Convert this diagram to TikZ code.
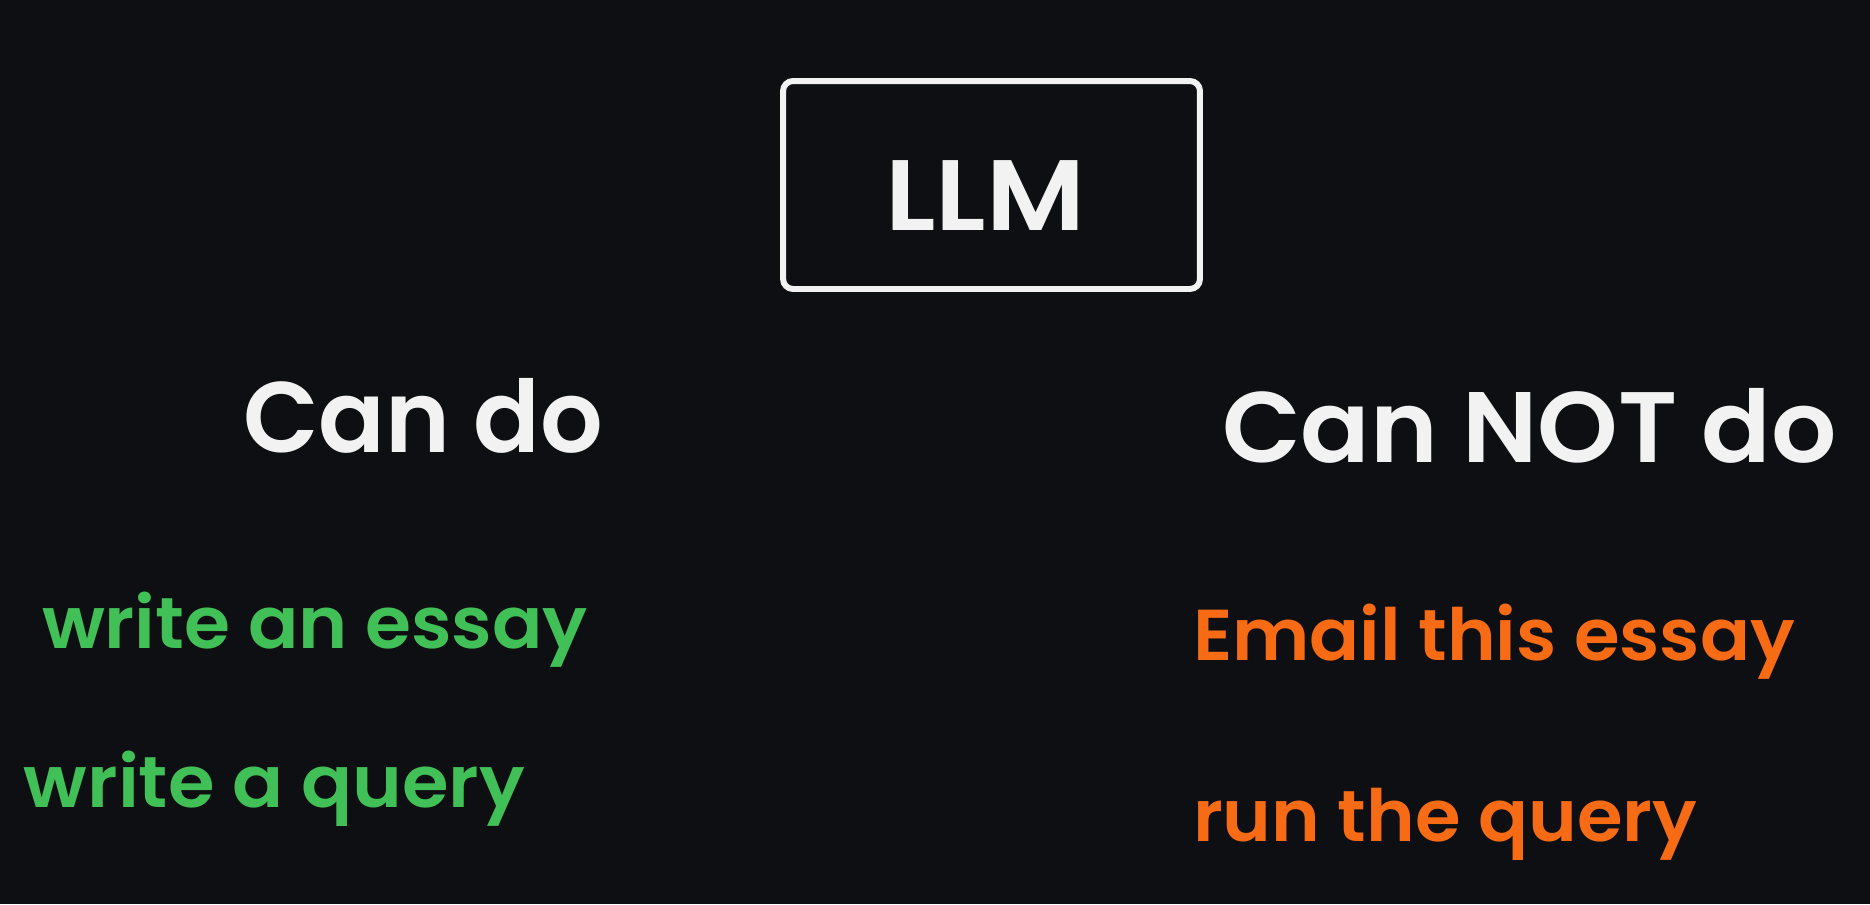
\documentclass[tikz,border=0pt]{standalone}
\usepackage{fontspec}
\usepackage{graphicx}
\setmainfont{Poppins SemiBold}
\definecolor{bg}{HTML}{0E0F12}
\definecolor{ink}{HTML}{F2F2F2}
\definecolor{cangreen}{HTML}{40C057}
\definecolor{cannot}{HTML}{F76B15}
\newcommand{\fitw}[2]{\resizebox{#1}{\height}{#2}}
\tikzset{
  txt/.style={anchor=base west, inner sep=0pt, outer sep=0pt},
  head/.style={txt, text=ink, font=\fontsize{57}{60}\selectfont},
  yes/.style={txt, text=cangreen, font=\fontsize{41}{44}\selectfont},
  no/.style={txt, text=cannot, font=\fontsize{41}{44}\selectfont},
  llmbox/.style={draw=ink, line width=3.4pt, rounded corners=0.2cm, minimum width=8.34cm, minimum height=4.16cm, inner sep=0pt}
}
\begin{document}
\begin{tikzpicture}[x=0.02cm, y=-0.02cm]
\fill[bg] (0,0) rectangle (1870,904);
\useasboundingbox (0,0) rectangle (1870,904);
\node[llmbox] (box) at (991.5,185) {};
\node[head] (llm) at (885,230) {\fitw{4.0cm}{LLM}};
\node[head] (cando) at (243,452) {\fitw{7.2cm}{Can do}};
\node[head] (cannotdo) at (1222,462) {\fitw{12.3cm}{Can NOT do}};
\node[yes] (essay) at (42,648) {\fitw{10.92cm}{write an essay}};
\node[yes] (query) at (24,807) {\fitw{10.02cm}{write a query}};
\node[no] (email) at (1193,660) {\fitw{12.04cm}{Email this essay}};
\node[no] (run) at (1193,841) {\fitw{10.08cm}{run the query}};
\end{tikzpicture}
\end{document}
